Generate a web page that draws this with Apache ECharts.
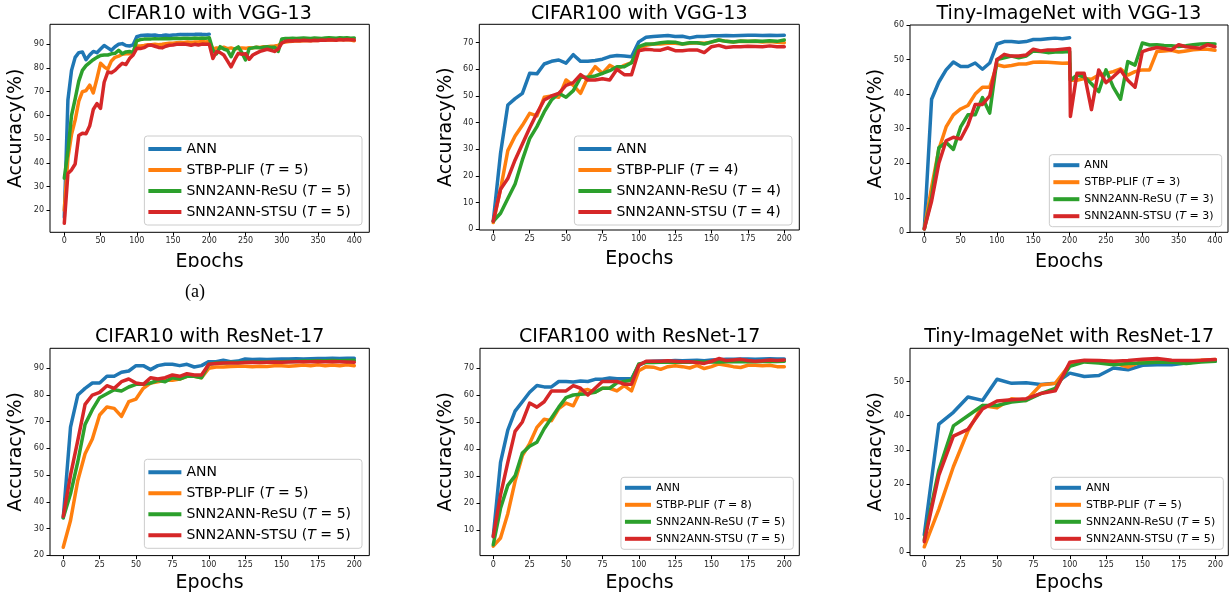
<!DOCTYPE html>
<html><head><meta charset="utf-8">
<script src="https://cdn.jsdelivr.net/npm/echarts@6/dist/echarts.min.js"></script>
<style>html,body{margin:0;padding:0;background:#fff}#c{width:1232px;height:596px}</style>
</head><body><div id="c"></div>
<script>
// ---------- x positions (epochs) ----------
const epochs5_400 = [0,5,10,15,20,25,30,35,40,45,50,55,60,65,70,75,80,85,90,95,100,105,110,115,120,125,130,135,140,145,150,155,160,165,170,175,180,185,190,195,200,205,210,215,220,225,230,235,240,245,250,255,260,265,270,275,280,285,290,295,300,305,310,315,320,325,330,335,340,345,350,355,360,365,370,375,380,385,390,395,400];
const epochs5_200 = [0,5,10,15,20,25,30,35,40,45,50,55,60,65,70,75,80,85,90,95,100,105,110,115,120,125,130,135,140,145,150,155,160,165,170,175,180,185,190,195,200];
const epochs10_200 = [0,10,20,30,40,50,60,70,80,90,100,110,120,130,140,150,160,170,180,190,200];
const epochsTinyVGG = [0,10,20,30,40,50,60,70,80,90,100,110,120,130,140,150,160,170,180,190,200,201,210,220,230,240,250,260,270,280,290,300,310,320,330,340,350,360,370,380,390,400];

// ---------- tick labels ----------
const xTicks400 = [0,50,100,150,200,250,300,350,400];
const xTicks200 = [0,25,50,75,100,125,150,175,200];
const yTicks20_90 = [20,30,40,50,60,70,80,90];
const yTicks0_70 = [0,10,20,30,40,50,60,70];
const yTicks0_60 = [0,10,20,30,40,50,60];
const yTicks10_70 = [10,20,30,40,50,60,70];
const yTicks0_50 = [0,10,20,30,40,50];

// ---------- CIFAR10 with VGG-13 ----------
const c10vgg_ann = [17,66.5,79,84.5,86.5,86.8,83.5,85.5,87,86.5,88,89.5,88.5,87.5,89,90,90.3,89.5,89.3,89.8,93.2,93.7,93.8,93.9,93.8,93.9,93.6,93.7,93.9,93.7,93.9,94,94.2,94.1,94.2,94.1,94.2,94.2,94.2,94.1,94.3];
const c10vgg_stbp = [20,42,52,58,66,70,70.5,72.8,69.5,75.5,82,80.5,79.5,83,84.5,85,85.8,86,86,86.5,89.3,89.3,89.5,89.8,89.8,90,89.8,90,90.3,90.5,90.5,90.7,90.8,90.8,91,90.8,91,91,91.2,91,91.2,88,88.5,88.3,88.8,88.2,88.5,88,88.3,88.5,88.3,88.6,88.5,88.8,88.7,89,89,89.2,89.3,89.5,90.8,91,91.2,91.3,91.5,91.4,91.5,91.6,91.5,91.7,91.6,91.8,91.7,91.8,91.9,91.8,92,91.9,92,91.8,91.5];
const c10vgg_resu = [33.5,45,60,67,74.5,79,81,82.3,83.5,84.5,85.3,85.5,85.5,86,86.2,87.5,86,86.8,87,86.6,91.5,92,92.2,92.3,92.3,92.4,92.3,92.4,92.5,92.4,92.5,92.6,92.5,92.6,92.6,92.5,92.7,92.6,92.7,92.6,92.8,87.5,86,89,88,87.5,84.8,88,88.9,86.5,83.4,88.2,88.5,88.8,88.5,88.8,89,88.7,88.8,87,92.3,92.5,92.5,92.6,92.5,92.6,92.7,92.6,92.5,92.7,92.6,92.5,92.7,92.8,92.7,92.6,92.8,92.7,92.8,92.6,92.7];
const c10vgg_stsu = [14.5,35.5,37,39.5,51.5,52.5,52.3,55.5,62.5,65,63,74,78.3,78,79,80.6,82,81.5,84,85.5,88.3,88.2,88.6,89.5,89.7,89.2,88.7,88.5,89.2,89.6,89.7,90,90,90.1,89.9,89.6,90,89.7,90.1,90,90,84,87,86.5,85.5,83,80.5,83.5,86.2,85.8,86,83.7,85.5,86.3,87,87.5,87.9,87.5,87,88,90.5,91.3,91.5,91.4,91.6,91.5,91.7,91.6,91.5,91.7,91.6,91.8,91.7,91.9,91.8,91.7,92,91.8,92,91.9,91.8];

// ---------- CIFAR100 with VGG-13 ----------
const c100vgg_ann = [3,28.5,46.6,49,51,58.5,58.3,62,63,63.5,62.3,65.5,63,63,63.3,63.8,64.8,65.2,65,64.7,70.3,72,72.3,72.5,72.7,72.3,72.4,71.8,72.3,72.3,72.6,72.6,72.7,72.6,72.7,72.8,72.8,72.7,72.8,72.7,72.8];
const c100vgg_stbp = [2.5,15,29.5,35,39,43.5,42.5,49.5,50,49.5,56,54,51,57,61,58.5,61.5,60,61.5,62.5,68,69,69.5,69.5,69.8,69.8,69.5,69.8,70,69.8,70.2,71,70.5,70.3,70.5,70.4,70.5,70.3,70.4,70.2,70];
const c100vgg_resu = [3,6,11.5,17,26,34,38.5,44,48.5,51,49.5,52,57,57,57.5,58.5,59.5,61,61,62.5,68.5,69.5,69.5,70,70.3,70.2,69.5,70,70,69.5,70.3,71,70.5,70.3,70.6,70.5,70.6,70.5,70.7,70.5,71];
const c100vgg_stsu = [3,15,19,26,32,38,43.5,48.5,50,51,54,55,58,56,56,56.5,56,60,58,58,67,67.5,67.3,67.2,68,67,67,67.3,67.3,66.3,68.5,69,68.2,68.5,68.5,68.7,68.6,68.5,68.8,68.5,68.5];

// ---------- Tiny-ImageNet with VGG-13 ----------
const tinyvgg_ann = [1,38.5,43.5,47,49.3,48,48,49,47.2,49,54.5,55.2,55.2,55,55.2,55.8,55.8,56,56.2,56,56.3];
const tinyvgg_stbp = [1,13,24,30.5,34,35.7,36.7,40,42,42,48.5,48,48.3,48.7,48.7,49.2,49.3,49.2,49.1,48.9,49,44,44,44.5,44.3,45.5,46,46.5,47.3,45.5,46.5,47,47,52.3,52.5,52.7,52.2,52.5,52.8,53,53,52.7];
const tinyvgg_resu = [1,10,24.5,26,24,30.5,34,34,39,34.5,50,50.5,51,50.5,51,52.5,52.3,52,52.2,52.2,52.3,44,45.5,45,43,40.7,47,42,38.5,49.4,48.4,54.8,54.2,54.3,54.1,54,53.8,54,54.3,54.5,54.6,54.5];
const tinyvgg_stsu = [1,9,20,26.5,27.5,27,31,37,37,39.5,50,51.5,51,51,51.3,53,52.5,52.8,52.8,53,53.2,33.5,46,46,35.5,47,43.3,45,47,44,42,52.3,53,53.5,53.2,52.8,54.3,53.7,53.5,53.3,54.3,53.7];

// ---------- CIFAR10 with ResNet-17 ----------
const c10res_ann = [34,68,80,82.5,84.5,84.5,87,87,88.5,89,91,91,89.5,91,91.5,91.5,91,91.5,90.5,91,92.5,92.5,93,92.5,92.7,93.5,93.3,93.4,93.3,93.4,93.5,93.5,93.6,93.5,93.6,93.7,93.7,93.8,93.7,93.8,93.8];
const c10res_stbp = [23,33,48,58,63.5,72.5,75.5,75,72,77.5,78.5,82.5,84.5,85,85.5,85.5,86,87,87,86.5,90,90.5,90.5,90.7,90.8,90.8,90.6,90.8,90.7,91,91,90.8,91,91.2,91,91.3,91,91.2,91,91.3,91];
const c10res_resu = [34,43,55,69,74.5,79,80.5,82,81.5,83,84,84,84.5,85.5,85,86.5,86,87,87,86.5,91.5,92,92,92.2,92.2,92.3,92.3,92.4,92.4,92.5,92.5,92.6,92.6,92.7,92.7,92.8,92.8,92.9,92.8,92.9,93];
const c10res_stsu = [34.5,50,63,76.5,80,81,83.5,82.5,85,86,84.5,84,86.5,86,86.5,87.5,87,88,87.5,87.5,91.5,91.8,92,92,92,92.2,92.3,92.2,92.3,92.4,92.3,92.4,92.5,92.5,92.5,92.6,92.5,92.6,92.5,92.4,92.3];

// ---------- CIFAR100 with ResNet-17 ----------
const c100res_ann = [7.5,35,47,54,57.5,61,63.5,63,63,65,65,64.8,65.2,65,65.8,65.8,66.3,66,66,66,71,72.3,72.5,72.6,72.6,72.8,72.7,72.8,72.9,72.7,73,73.1,73.2,73.2,73.3,73.3,73.2,73.3,73.4,73.3,73.3];
const c100res_stbp = [4,7,16,28,37.5,42,48,51,50.5,55,57,56,61.5,62,61,62.5,62.5,61.5,63.5,61.5,69,70.5,70.3,69.5,70.5,70.8,70.5,70,71,69.8,70.5,71.5,71,70.5,70.2,71,71,70.8,71,70.5,70.5];
const c100res_resu = [4.5,18,26.5,30,38.5,41,42.5,47.5,51.5,55.5,59,60,60.3,60.5,61,62.5,62.5,64.5,65,65.5,71.5,72,72,72.1,72.2,72.1,72.2,72.1,72.3,72.2,72.3,72.2,72.3,72.4,72.3,72.4,72.3,72.4,72.5,72.4,72.5];
const c100res_stsu = [7.5,23,35,46.5,50,57,55.5,57.5,61.5,61.5,61.5,63.5,62.5,60,62.5,65,65,65,64,64,71,72.5,72.5,72.5,72.7,72.5,72.3,72.3,72,71.7,72.5,73.5,72.8,73,73.2,72.8,72.5,72.7,73,72.8,73];

// ---------- Tiny-ImageNet with ResNet-17 ----------
const tinyres_ann = [5,37.5,41,45.5,44.5,50.7,49.5,49.7,49.2,49.5,52.5,51.5,51.8,54,53.5,54.8,55,55,55.5,56,56];
const tinyres_stbp = [1.5,12.5,25,35.5,43,42.3,45,44.5,49,49.5,55,56,56,55.5,54.3,56,56.5,56,56,56.3,56.5];
const tinyres_resu = [3.5,24,37,40,43,43,44,44.5,46.5,48,54.5,55.8,55.5,55,55.3,55.5,55.7,55.7,55.3,55.8,56];
const tinyres_stsu = [3,22.5,34,36,42,44.3,44.7,45,46.5,47.3,55.7,56.3,56.2,56,56.2,56.6,56.8,56.3,56.2,56.3,56.5];

// ---------- labels ----------
const titles = ['CIFAR10 with VGG-13','CIFAR100 with VGG-13','Tiny-ImageNet with VGG-13','CIFAR10 with ResNet-17','CIFAR100 with ResNet-17','Tiny-ImageNet with ResNet-17'];
const names1 = ['ANN','STBP-PLIF (T = 5)','SNN2ANN-ReSU (T = 5)','SNN2ANN-STSU (T = 5)'];
const names2 = ['ANN','STBP-PLIF (T = 4)','SNN2ANN-ReSU (T = 4)','SNN2ANN-STSU (T = 4)'];
const names3 = ['ANN','STBP-PLIF (T = 3)','SNN2ANN-ReSU (T = 3)','SNN2ANN-STSU (T = 3)'];
const names5 = ['ANN','STBP-PLIF (T = 8)','SNN2ANN-ReSU (T = 5)','SNN2ANN-STSU (T = 5)'];
const colors = ['#1f77b4','#ff7f0e','#2ca02c','#d62728'];

const FONT = 'DejaVu Sans';
const panels = [
  {grid:{left:50,top:24.3,width:319.3,height:208}, x:[-19.7,420.7], xt:xTicks400, y:[10.7,98.45], yt:yTicks20_90, ep:epochs5_400,
   data:[c10vgg_ann,c10vgg_stbp,c10vgg_resu,c10vgg_stsu], names:names1, leg:{right:870,bottom:371,big:true}, row:0},
  {grid:{left:479.3,top:24.3,width:320,height:205.7}, x:[-9.6,210.3], xt:xTicks200, y:[-0.3,76.9], yt:yTicks0_70, ep:epochs5_200,
   data:[c100vgg_ann,c100vgg_stbp,c100vgg_resu,c100vgg_stsu], names:names2, leg:{right:440,bottom:371,big:true}, row:0},
  {grid:{left:910,top:25,width:318,height:207.3}, x:[-19.7,417.9], xt:xTicks400, y:[0,60], yt:yTicks0_60, ep:epochsTinyVGG,
   data:[tinyvgg_ann,tinyvgg_stbp,tinyvgg_resu,tinyvgg_stsu], names:names3, leg:{right:10.3,bottom:369.3,big:false}, row:0},
  {grid:{left:50,top:348.3,width:319.3,height:207.3}, x:[-9.1,210.3], xt:xTicks200, y:[19.85,97.5], yt:yTicks20_90, ep:epochs5_200,
   data:[c10res_ann,c10res_stbp,c10res_resu,c10res_stsu], names:names1, leg:{right:870,bottom:47.7,big:true}, row:1},
  {grid:{left:480,top:348.3,width:319.3,height:207.3}, x:[-9.1,210.3], xt:xTicks200, y:[0.48,77.3], yt:yTicks10_70, ep:epochs5_200,
   data:[c100res_ann,c100res_stbp,c100res_resu,c100res_stsu], names:names5, leg:{right:438.7,bottom:46.7,big:false}, row:1},
  {grid:{left:910,top:348.3,width:318.3,height:207.3}, x:[-9.8,208.9], xt:xTicks200, y:[-1.09,59.8], yt:yTicks0_50, ep:epochs10_200,
   data:[tinyres_ann,tinyres_stbp,tinyres_resu,tinyres_stsu], names:names1, leg:{right:8.7,bottom:46.7,big:false}, row:1}
];

const option = {animation:false, backgroundColor:'#fff', title:[], grid:[], xAxis:[], yAxis:[], legend:[], series:[], graphic:[]};

panels.forEach((p, i) => {
  const g = p.grid;
  option.grid.push({left:g.left, top:g.top, width:g.width, height:g.height, show:true, borderColor:'#000', borderWidth:1, backgroundColor:'transparent'});
  option.title.push({text:titles[i], left:g.left + g.width/2, top:p.row===0 ? 4.5 : 328, textAlign:'center', padding:0,
    textStyle:{fontFamily:FONT, fontSize:19, fontWeight:'normal', color:'#000'}});
  option.xAxis.push({type:'value', gridIndex:i, min:p.x[0], max:p.x[1], position:'bottom',
    axisLine:{show:false, onZero:false}, splitLine:{show:false},
    axisTick:{show:true, inside:false, length:3.5, lineStyle:{color:'#000', width:1}, customValues:p.xt},
    axisLabel:{customValues:p.xt, fontFamily:FONT, fontSize:8, color:'#262626', margin:5},
    name:'Epochs', nameLocation:'middle', nameGap:p.row===0 ? 20 : 18,
    nameTextStyle:{fontFamily:FONT, fontSize:19, color:'#000'}});
  option.yAxis.push({type:'value', gridIndex:i, min:p.y[0], max:p.y[1], position:'left',
    axisLine:{show:false, onZero:false}, splitLine:{show:false},
    axisTick:{show:true, inside:false, length:3.5, lineStyle:{color:'#000', width:1}, customValues:p.yt},
    axisLabel:{customValues:p.yt, fontFamily:FONT, fontSize:8, color:'#262626', margin:6},
    name:'Accuracy(%)', nameLocation:'middle', nameGap:24,
    nameTextStyle:{fontFamily:FONT, fontSize:19, color:'#000'}});
  p.data.forEach((vals, k) => {
    option.series.push({type:'line', name:p.names[k], xAxisIndex:i, yAxisIndex:i,
      data: vals.map((v, j) => [p.ep[j], v]),
      showSymbol:false, symbol:'none', z:2+k,
      lineStyle:{color:colors[k], width:3.5, cap:'round', join:'round'},
      itemStyle:{color:colors[k]}, emphasis:{disabled:true}});
  });
  const big = p.leg.big;
  const fs = big ? 14 : 11;
  option.legend.push({data:p.names, orient:'vertical', right:p.leg.right, bottom:p.leg.bottom,
    icon:'rect', itemWidth: big ? 33 : 26, itemHeight:4, itemGap: big ? 5 : 4,
    padding: big ? [5,11,5,4] : [4,8,4,4], selectedMode:false,
    backgroundColor:'rgba(255,255,255,0.8)', borderColor:'#cccccc', borderWidth:1, borderRadius:3,
    itemStyle:{borderWidth:0},
    formatter: n => n.replace('(T', '({i|T}'),
    textStyle:{fontFamily:FONT, fontSize:fs, lineHeight: big ? 16 : 13, color:'#000',
      rich:{i:{fontFamily:FONT, fontSize:fs, fontStyle:'italic', color:'#000'}}}});
});

// figure crop below first row and subfigure label
option.graphic.push({type:'rect', z:100, shape:{x:0, y:267, width:1232, height:14}, style:{fill:'#fff'}});
option.graphic.push({type:'text', z:101, left:185, top:283, style:{text:'(a)', font:'18px "Liberation Serif"', fill:'#000'}});

const chart = echarts.init(document.getElementById('c'), null, {renderer:'canvas'});
chart.setOption(option);
</script></body></html>
